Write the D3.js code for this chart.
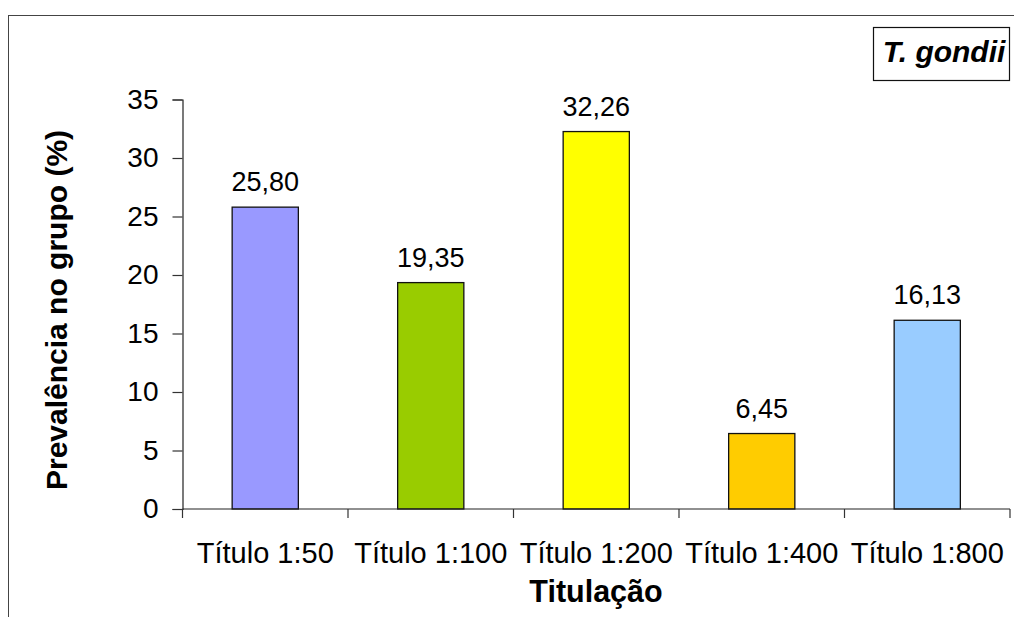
<!DOCTYPE html>
<html>
<head>
<meta charset="utf-8">
<script src="https://cdn.jsdelivr.net/npm/d3@7"></script>
<style>
  html, body { margin: 0; padding: 0; background: #fff; }
  svg { display: block; font-family: "Liberation Sans", Arial, sans-serif; }
</style>
</head>
<body>
<svg id="chart" width="1014" height="617"></svg>
<script>
// Prevalence of T. gondii antibodies by titre
const categories = ["Título 1:50", "Título 1:100", "Título 1:200", "Título 1:400", "Título 1:800"];
const values = [25.80, 19.35, 32.26, 6.45, 16.13];
const valueLabels = ["25,80", "19,35", "32,26", "6,45", "16,13"];
const barColors = ["#9999FF", "#99CC00", "#FFFF00", "#FFCC00", "#99CCFF"];
const yTicks = [0, 5, 10, 15, 20, 25, 30, 35];

const svg = d3.select("#chart");

// outer frame
svg.append("rect")
  .attr("x", 8.5).attr("y", 15.5)
  .attr("width", 1100).attr("height", 700)
  .attr("fill", "none").attr("stroke", "#444").attr("stroke-width", 1);

const plot = { left: 182.5, right: 1010, top: 99.5, bottom: 509 };

const x = d3.scaleBand()
  .domain(categories)
  .range([plot.left, plot.right])
  .paddingInner(0.6)
  .paddingOuter(0.3);

const y = d3.scaleLinear()
  .domain([0, 35])
  .range([plot.bottom, plot.top]);

// bars
svg.append("g").selectAll("rect")
  .data(values)
  .join("rect")
  .attr("x", (d, i) => x(categories[i]))
  .attr("y", d => y(d))
  .attr("width", x.bandwidth())
  .attr("height", d => y(0) - y(d))
  .attr("fill", (d, i) => barColors[i])
  .attr("stroke", "#111")
  .attr("stroke-width", 1.3);

// value labels
svg.append("g").selectAll("text")
  .data(values)
  .join("text")
  .attr("x", (d, i) => x(categories[i]) + x.bandwidth() / 2)
  .attr("y", d => y(d) - 16)
  .attr("text-anchor", "middle")
  .attr("font-size", 27)
  .attr("fill", "#000")
  .text((d, i) => valueLabels[i]);

// y axis
const yAxis = svg.append("g")
  .attr("transform", `translate(${plot.left},0)`)
  .call(d3.axisLeft(y).tickValues(yTicks).tickSize(10).tickPadding(14).tickFormat(d3.format("d")));
yAxis.select(".domain").attr("stroke", "#222").attr("stroke-width", 1.2);
yAxis.selectAll(".tick line").attr("stroke", "#333").attr("stroke-width", 1.2);
yAxis.selectAll(".tick text")
  .attr("font-family", "Liberation Sans, Arial, sans-serif")
  .attr("font-size", 28).attr("fill", "#000");

// x axis: line along zero with ticks between categories
const xAxisG = svg.append("g");
xAxisG.append("line")
  .attr("x1", plot.left).attr("x2", plot.right)
  .attr("y1", y(0)).attr("y2", y(0))
  .attr("stroke", "#222").attr("stroke-width", 1.2);
const step = x.step();
const boundaries = d3.range(categories.length + 1).map(i => plot.left + i * step);
xAxisG.selectAll("line.sep")
  .data(boundaries)
  .join("line")
  .attr("class", "sep")
  .attr("x1", d => d).attr("x2", d => d)
  .attr("y1", y(0)).attr("y2", y(0) + 9)
  .attr("stroke", "#333").attr("stroke-width", 1.2);
xAxisG.selectAll("text")
  .data(categories)
  .join("text")
  .attr("x", d => x(d) + x.bandwidth() / 2)
  .attr("y", 563)
  .attr("text-anchor", "middle")
  .attr("font-size", 29)
  .attr("fill", "#000")
  .text(d => d);

// axis titles
svg.append("text")
  .attr("transform", "translate(67,310) rotate(-90)")
  .attr("text-anchor", "middle")
  .attr("font-size", 30)
  .attr("font-weight", "bold")
  .attr("fill", "#000")
  .text("Prevalência no grupo (%)");

svg.append("text")
  .attr("x", 596)
  .attr("y", 602)
  .attr("text-anchor", "middle")
  .attr("font-size", 30.5)
  .attr("font-weight", "bold")
  .attr("fill", "#000")
  .text("Titulação");

// legend box
const legend = svg.append("g");
legend.append("rect")
  .attr("x", 873.5).attr("y", 27.5)
  .attr("width", 136).attr("height", 53)
  .attr("fill", "#fff").attr("stroke", "#111").attr("stroke-width", 1.2);
legend.append("text")
  .attr("x", 944).attr("y", 62)
  .attr("text-anchor", "middle")
  .attr("font-size", 30)
  .attr("font-weight", "bold")
  .attr("font-style", "italic")
  .attr("fill", "#000")
  .text("T. gondii");
</script>
</body>
</html>
